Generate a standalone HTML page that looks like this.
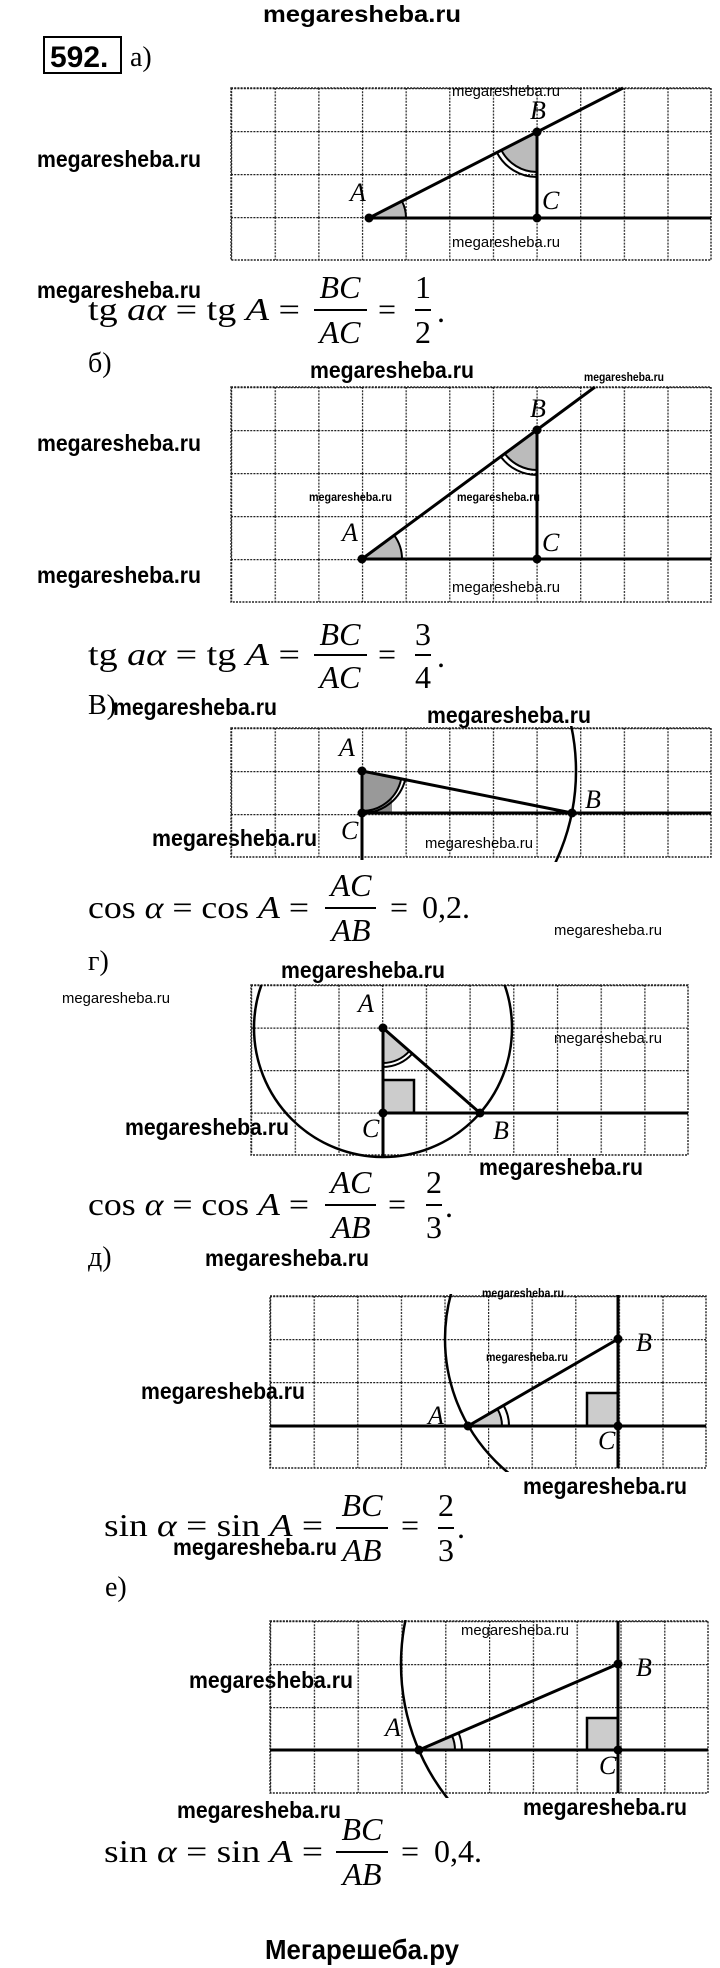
<!DOCTYPE html>
<html><head><meta charset="utf-8"><style>
html,body{margin:0;padding:0;background:#fff;}
svg{display:block;}
.wb{font-family:"Liberation Sans",sans-serif;font-weight:bold;font-size:23px;fill:#000;}
.ws{font-family:"Liberation Sans",sans-serif;font-size:15px;fill:#000;}
.wt{font-family:"Liberation Sans",sans-serif;font-size:12px;font-weight:bold;fill:#000;}
.m{font-family:"Liberation Serif",serif;font-size:32px;fill:#000;}
.i{font-style:italic;}
.lb{font-family:"Liberation Serif",serif;font-style:italic;font-size:26px;fill:#000;}
.h{font-family:"Liberation Serif",serif;font-size:28px;fill:#000;}
</style></head><body>
<svg width="720" height="1968" viewBox="0 0 720 1968" xmlns="http://www.w3.org/2000/svg">
<defs>
<pattern id="pa" x="231" y="88" width="43.64" height="43" patternUnits="userSpaceOnUse"><path d="M0,0.5H43.64M0.5,0V43" stroke="#222" stroke-width="1.4" stroke-dasharray="2,1.2" fill="none"/></pattern>
<pattern id="pb" x="231" y="387" width="43.64" height="43" patternUnits="userSpaceOnUse"><path d="M0,0.5H43.64M0.5,0V43" stroke="#222" stroke-width="1.4" stroke-dasharray="2,1.2" fill="none"/></pattern>
<pattern id="pc" x="231" y="728" width="43.64" height="43" patternUnits="userSpaceOnUse"><path d="M0,0.5H43.64M0.5,0V43" stroke="#222" stroke-width="1.4" stroke-dasharray="2,1.2" fill="none"/></pattern>
<pattern id="pd" x="251" y="985" width="43.7" height="42.5" patternUnits="userSpaceOnUse"><path d="M0,0.5H43.7M0.5,0V42.5" stroke="#222" stroke-width="1.4" stroke-dasharray="2,1.2" fill="none"/></pattern>
<pattern id="pe" x="270" y="1296" width="43.6" height="43" patternUnits="userSpaceOnUse"><path d="M0,0.5H43.6M0.5,0V43" stroke="#222" stroke-width="1.4" stroke-dasharray="2,1.2" fill="none"/></pattern>
<pattern id="pf" x="270" y="1621" width="43.8" height="43" patternUnits="userSpaceOnUse"><path d="M0,0.5H43.8M0.5,0V43" stroke="#222" stroke-width="1.4" stroke-dasharray="2,1.2" fill="none"/></pattern>
<clipPath id="cc"><rect x="231" y="726" width="480" height="136"/></clipPath>
<clipPath id="cd"><rect x="240" y="985" width="460" height="175"/></clipPath>
<clipPath id="ce"><rect x="270" y="1294" width="436" height="178"/></clipPath>
<clipPath id="cf"><rect x="270" y="1620" width="438" height="178"/></clipPath>
</defs>
<rect width="720" height="1968" fill="#fff"/>

<text class="wb" x="263" y="22" font-size="26" textLength="198" lengthAdjust="spacingAndGlyphs">megaresheba.ru</text>
<rect x="44" y="37" width="77" height="36" fill="none" stroke="#000" stroke-width="2"/>
<text x="50" y="67" font-family="Liberation Sans,sans-serif" font-weight="bold" font-size="30">592.</text>
<text class="h" x="130" y="66">а)</text>

<!-- a -->
<rect x="231" y="88" width="480" height="172" fill="url(#pa)" stroke="#222" stroke-width="1.4" stroke-dasharray="2,1.2"/>
<path d="M369,218 L406,218 A37,37 0 0 0 401.9,201.1 Z" fill="#bbb"/>
<path d="M406,218 A37,37 0 0 0 401.9,201.1" fill="none" stroke="#000" stroke-width="2"/>
<path d="M537,132 L501.4,150.2 A40,40 0 0 0 537,172 Z" fill="#bbb"/>
<path d="M501.4,150.2 A40,40 0 0 0 537,172 M496.9,152.5 A45,45 0 0 0 537,177" fill="none" stroke="#000" stroke-width="2"/>
<g stroke="#000" stroke-width="3" fill="none"><path d="M369,218H711M369,218L623,88M537,132V218"/></g>
<g fill="#000"><circle cx="369" cy="218" r="4.5"/><circle cx="537" cy="218" r="4.5"/><circle cx="537" cy="132" r="4.5"/></g>
<text class="lb" x="350" y="201">A</text><text class="lb" x="530" y="119">B</text><text class="lb" x="542" y="209">C</text>
<text class="ws" x="452" y="96" textLength="108" lengthAdjust="spacingAndGlyphs">megaresheba.ru</text>
<text class="ws" x="452" y="247" textLength="108" lengthAdjust="spacingAndGlyphs">megaresheba.ru</text>
<text class="wb" x="37" y="167" textLength="164" lengthAdjust="spacingAndGlyphs">megaresheba.ru</text>
<text class="wb" x="37" y="298" textLength="164" lengthAdjust="spacingAndGlyphs">megaresheba.ru</text>
<text class="m" x="88" y="320" textLength="212" lengthAdjust="spacingAndGlyphs">tg <tspan class="i">aα</tspan> = tg <tspan class="i">A</tspan> =</text>
<text class="m i" x="340" y="298" text-anchor="middle">BC</text><rect x="314" y="309" width="53" height="2"/><text class="m i" x="340" y="343" text-anchor="middle">AC</text>
<text class="m" x="378" y="320">=</text>
<text class="m" x="423" y="298" text-anchor="middle">1</text><rect x="415" y="309" width="16" height="2"/><text class="m" x="423" y="343" text-anchor="middle">2</text>
<text class="m" x="437" y="322">.</text>

<!-- b -->
<text class="h" x="88" y="372">б)</text>
<text class="wb" x="310" y="378" textLength="164" lengthAdjust="spacingAndGlyphs">megaresheba.ru</text>
<text class="wt" x="584" y="381" textLength="80" lengthAdjust="spacingAndGlyphs">megaresheba.ru</text>
<rect x="231" y="387" width="480" height="215" fill="url(#pb)" stroke="#222" stroke-width="1.4" stroke-dasharray="2,1.2"/>
<path d="M362,559 L402,559 A40,40 0 0 0 394.2,535.3 Z" fill="#bbb"/>
<path d="M402,559 A40,40 0 0 0 394.2,535.3" fill="none" stroke="#000" stroke-width="2"/>
<path d="M537,430 L504.8,453.7 A40,40 0 0 0 537,470 Z" fill="#bbb"/>
<path d="M504.8,453.7 A40,40 0 0 0 537,470 M500.8,456.7 A45,45 0 0 0 537,475" fill="none" stroke="#000" stroke-width="2"/>
<g stroke="#000" stroke-width="3" fill="none"><path d="M362,559H711M362,559L595,387M537,430V559"/></g>
<g fill="#000"><circle cx="362" cy="559" r="4.5"/><circle cx="537" cy="559" r="4.5"/><circle cx="537" cy="430" r="4.5"/></g>
<text class="lb" x="342" y="541">A</text><text class="lb" x="530" y="417">B</text><text class="lb" x="542" y="551">C</text>
<text class="wt" x="309" y="501" textLength="83" lengthAdjust="spacingAndGlyphs">megaresheba.ru</text>
<text class="wt" x="457" y="501" textLength="83" lengthAdjust="spacingAndGlyphs">megaresheba.ru</text>
<text class="ws" x="452" y="592" textLength="108" lengthAdjust="spacingAndGlyphs">megaresheba.ru</text>
<text class="wb" x="37" y="451" textLength="164" lengthAdjust="spacingAndGlyphs">megaresheba.ru</text>
<text class="wb" x="37" y="583" textLength="164" lengthAdjust="spacingAndGlyphs">megaresheba.ru</text>
<text class="m" x="88" y="665" textLength="212" lengthAdjust="spacingAndGlyphs">tg <tspan class="i">aα</tspan> = tg <tspan class="i">A</tspan> =</text>
<text class="m i" x="340" y="645" text-anchor="middle">BC</text><rect x="314" y="654" width="53" height="2"/><text class="m i" x="340" y="688" text-anchor="middle">AC</text>
<text class="m" x="378" y="665">=</text>
<text class="m" x="423" y="645" text-anchor="middle">3</text><rect x="415" y="654" width="16" height="2"/><text class="m" x="423" y="688" text-anchor="middle">4</text>
<text class="m" x="437" y="667">.</text>

<!-- v -->
<text class="h" x="88" y="714" font-size="24">В)</text>
<text class="wb" x="113" y="715" textLength="164" lengthAdjust="spacingAndGlyphs">megaresheba.ru</text>
<text class="wb" x="427" y="723" textLength="164" lengthAdjust="spacingAndGlyphs">megaresheba.ru</text>
<rect x="231" y="728" width="480" height="129" fill="url(#pc)" stroke="#222" stroke-width="1.4" stroke-dasharray="2,1.2"/>
<path d="M362,771 L392,777 A30,30 0 0 1 362,801 Z M362,783 H392 V813 H362 Z" fill="#888"/>
<path d="M362,771 L401.2,778.8 A40,40 0 0 1 362,811 Z" fill="#999"/>
<path d="M401.2,778.8 A40,40 0 0 1 362,811 M405.2,779.6 A44,44 0 0 1 364,813" fill="none" stroke="#000" stroke-width="2"/>
<g stroke="#000" stroke-width="3" fill="none"><path d="M362,771V860M362,813H711M362,771L572,813"/>
<circle cx="362" cy="771" r="214" clip-path="url(#cc)" stroke-width="2.5"/></g>
<g fill="#000"><circle cx="362" cy="771" r="4.5"/><circle cx="362" cy="813" r="4.5"/><circle cx="572" cy="813" r="4.5"/></g>
<text class="lb" x="339" y="756">A</text><text class="lb" x="585" y="808">B</text><text class="lb" x="341" y="839">C</text>
<text class="wb" x="152" y="846" textLength="165" lengthAdjust="spacingAndGlyphs">megaresheba.ru</text>
<text class="ws" x="425" y="848" textLength="108" lengthAdjust="spacingAndGlyphs">megaresheba.ru</text>
<text class="m" x="88" y="918" textLength="221" lengthAdjust="spacingAndGlyphs">cos <tspan class="i">α</tspan> = cos <tspan class="i">A</tspan> =</text>
<text class="m i" x="351" y="896" text-anchor="middle">AC</text><rect x="325" y="907" width="51" height="2"/><text class="m i" x="351" y="941" text-anchor="middle">AB</text>
<text class="m" x="390" y="918">=</text>
<text class="m" x="422" y="918">0,2.</text>
<text class="ws" x="554" y="935" textLength="108" lengthAdjust="spacingAndGlyphs">megaresheba.ru</text>

<!-- g -->
<text class="h" x="88" y="970">г)</text>
<text class="wb" x="281" y="978" textLength="164" lengthAdjust="spacingAndGlyphs">megaresheba.ru</text>
<text class="ws" x="62" y="1003" textLength="108" lengthAdjust="spacingAndGlyphs">megaresheba.ru</text>
<rect x="251" y="985" width="437" height="170" fill="url(#pd)" stroke="#222" stroke-width="1.4" stroke-dasharray="2,1.2"/>
<rect x="383" y="1080" width="31" height="33" fill="#ccc" stroke="#000" stroke-width="2.5"/>
<path d="M383,1028 L409.3,1051.1 A35,35 0 0 1 383,1063 Z" fill="#ccc"/>
<path d="M409.3,1051.1 A35,35 0 0 1 383,1063 M412.3,1053.7 A39,39 0 0 1 383,1067" fill="none" stroke="#000" stroke-width="2"/>
<g stroke="#000" stroke-width="3" fill="none"><path d="M383,1028V1158M383,1113H688M383,1028L480,1113"/>
<circle cx="383" cy="1028" r="129" clip-path="url(#cd)" stroke-width="2.5"/></g>
<g fill="#000"><circle cx="383" cy="1028" r="4.5"/><circle cx="383" cy="1113" r="4.5"/><circle cx="480" cy="1113" r="4.5"/></g>
<text class="lb" x="358" y="1012">A</text><text class="lb" x="493" y="1139">B</text><text class="lb" x="362" y="1137">C</text>
<text class="ws" x="554" y="1043" textLength="108" lengthAdjust="spacingAndGlyphs">megaresheba.ru</text>
<text class="wb" x="125" y="1135" textLength="164" lengthAdjust="spacingAndGlyphs">megaresheba.ru</text>
<text class="wb" x="479" y="1175" textLength="164" lengthAdjust="spacingAndGlyphs">megaresheba.ru</text>
<text class="m" x="88" y="1215" textLength="221" lengthAdjust="spacingAndGlyphs">cos <tspan class="i">α</tspan> = cos <tspan class="i">A</tspan> =</text>
<text class="m i" x="351" y="1193" text-anchor="middle">AC</text><rect x="325" y="1204" width="51" height="2"/><text class="m i" x="351" y="1238" text-anchor="middle">AB</text>
<text class="m" x="388" y="1215">=</text>
<text class="m" x="434" y="1193" text-anchor="middle">2</text><rect x="426" y="1204" width="16" height="2"/><text class="m" x="434" y="1238" text-anchor="middle">3</text>
<text class="m" x="445" y="1217">.</text>

<!-- d -->
<text class="h" x="88" y="1266">д)</text>
<text class="wb" x="205" y="1266" textLength="164" lengthAdjust="spacingAndGlyphs">megaresheba.ru</text>
<rect x="270" y="1296" width="436" height="172" fill="url(#pe)" stroke="#222" stroke-width="1.4" stroke-dasharray="2,1.2"/>
<rect x="587" y="1393" width="31" height="33" fill="#ccc" stroke="#000" stroke-width="2.5"/>
<path d="M468,1426 L502,1426 A34,34 0 0 0 497.4,1408.9 Z" fill="#ccc"/>
<path d="M502,1426 A34,34 0 0 0 497.4,1408.9 M509,1426 A41,41 0 0 0 503.5,1405.4" fill="none" stroke="#000" stroke-width="2"/>
<g stroke="#000" stroke-width="3" fill="none"><path d="M618,1295V1468M270,1426H706M468,1426L618,1339"/>
<circle cx="618" cy="1339" r="173" clip-path="url(#ce)" stroke-width="2.5"/></g>
<g fill="#000"><circle cx="468" cy="1426" r="4.5"/><circle cx="618" cy="1426" r="4.5"/><circle cx="618" cy="1339" r="4.5"/></g>
<text class="lb" x="428" y="1424">A</text><text class="lb" x="636" y="1351">B</text><text class="lb" x="598" y="1449">C</text>
<text class="wt" x="482" y="1297" textLength="82" lengthAdjust="spacingAndGlyphs">megaresheba.ru</text>
<text class="wt" x="486" y="1361" textLength="82" lengthAdjust="spacingAndGlyphs">megaresheba.ru</text>
<text class="wb" x="141" y="1399" textLength="164" lengthAdjust="spacingAndGlyphs">megaresheba.ru</text>
<text class="wb" x="523" y="1494" textLength="164" lengthAdjust="spacingAndGlyphs">megaresheba.ru</text>
<text class="m" x="104" y="1536" textLength="219" lengthAdjust="spacingAndGlyphs">sin <tspan class="i">α</tspan> = sin <tspan class="i">A</tspan> =</text>
<text class="m i" x="362" y="1516" text-anchor="middle">BC</text><rect x="336" y="1527" width="52" height="2"/><text class="m i" x="362" y="1561" text-anchor="middle">AB</text>
<text class="m" x="401" y="1536">=</text>
<text class="m" x="446" y="1516" text-anchor="middle">2</text><rect x="438" y="1527" width="16" height="2"/><text class="m" x="446" y="1561" text-anchor="middle">3</text>
<text class="m" x="457" y="1538">.</text>
<text class="wb" x="173" y="1555" textLength="164" lengthAdjust="spacingAndGlyphs">megaresheba.ru</text>

<!-- e -->
<text class="h" x="105" y="1596">е)</text>
<rect x="270" y="1621" width="438" height="172" fill="url(#pf)" stroke="#222" stroke-width="1.4" stroke-dasharray="2,1.2"/>
<rect x="587" y="1718" width="31" height="32" fill="#ccc" stroke="#000" stroke-width="2.5"/>
<path d="M419,1750 L455,1750 A36,36 0 0 0 452,1735.7 Z" fill="#ccc"/>
<path d="M455,1750 A36,36 0 0 0 452,1735.7 M462,1750 A43,43 0 0 0 458.5,1732.9" fill="none" stroke="#000" stroke-width="2"/>
<g stroke="#000" stroke-width="3" fill="none"><path d="M618,1621V1793M270,1750H708M419,1750L618,1664"/>
<circle cx="618" cy="1664" r="217" clip-path="url(#cf)" stroke-width="2.5"/></g>
<g fill="#000"><circle cx="419" cy="1750" r="4.5"/><circle cx="618" cy="1750" r="4.5"/><circle cx="618" cy="1664" r="4.5"/></g>
<text class="lb" x="385" y="1736">A</text><text class="lb" x="636" y="1676">B</text><text class="lb" x="599" y="1774">C</text>
<text class="ws" x="461" y="1635" textLength="108" lengthAdjust="spacingAndGlyphs">megaresheba.ru</text>
<text class="wb" x="189" y="1688" textLength="164" lengthAdjust="spacingAndGlyphs">megaresheba.ru</text>
<text class="wb" x="177" y="1818" textLength="164" lengthAdjust="spacingAndGlyphs">megaresheba.ru</text>
<text class="wb" x="523" y="1815" textLength="164" lengthAdjust="spacingAndGlyphs">megaresheba.ru</text>
<text class="m" x="104" y="1862" textLength="219" lengthAdjust="spacingAndGlyphs">sin <tspan class="i">α</tspan> = sin <tspan class="i">A</tspan> =</text>
<text class="m i" x="362" y="1840" text-anchor="middle">BC</text><rect x="336" y="1851" width="52" height="2"/><text class="m i" x="362" y="1885" text-anchor="middle">AB</text>
<text class="m" x="401" y="1862">=</text>
<text class="m" x="434" y="1862">0,4.</text>

<text x="265" y="1959" font-family="Liberation Sans,sans-serif" font-weight="bold" font-size="28" textLength="194" lengthAdjust="spacingAndGlyphs">Мегарешеба.ру</text>
</svg>
</body></html>
